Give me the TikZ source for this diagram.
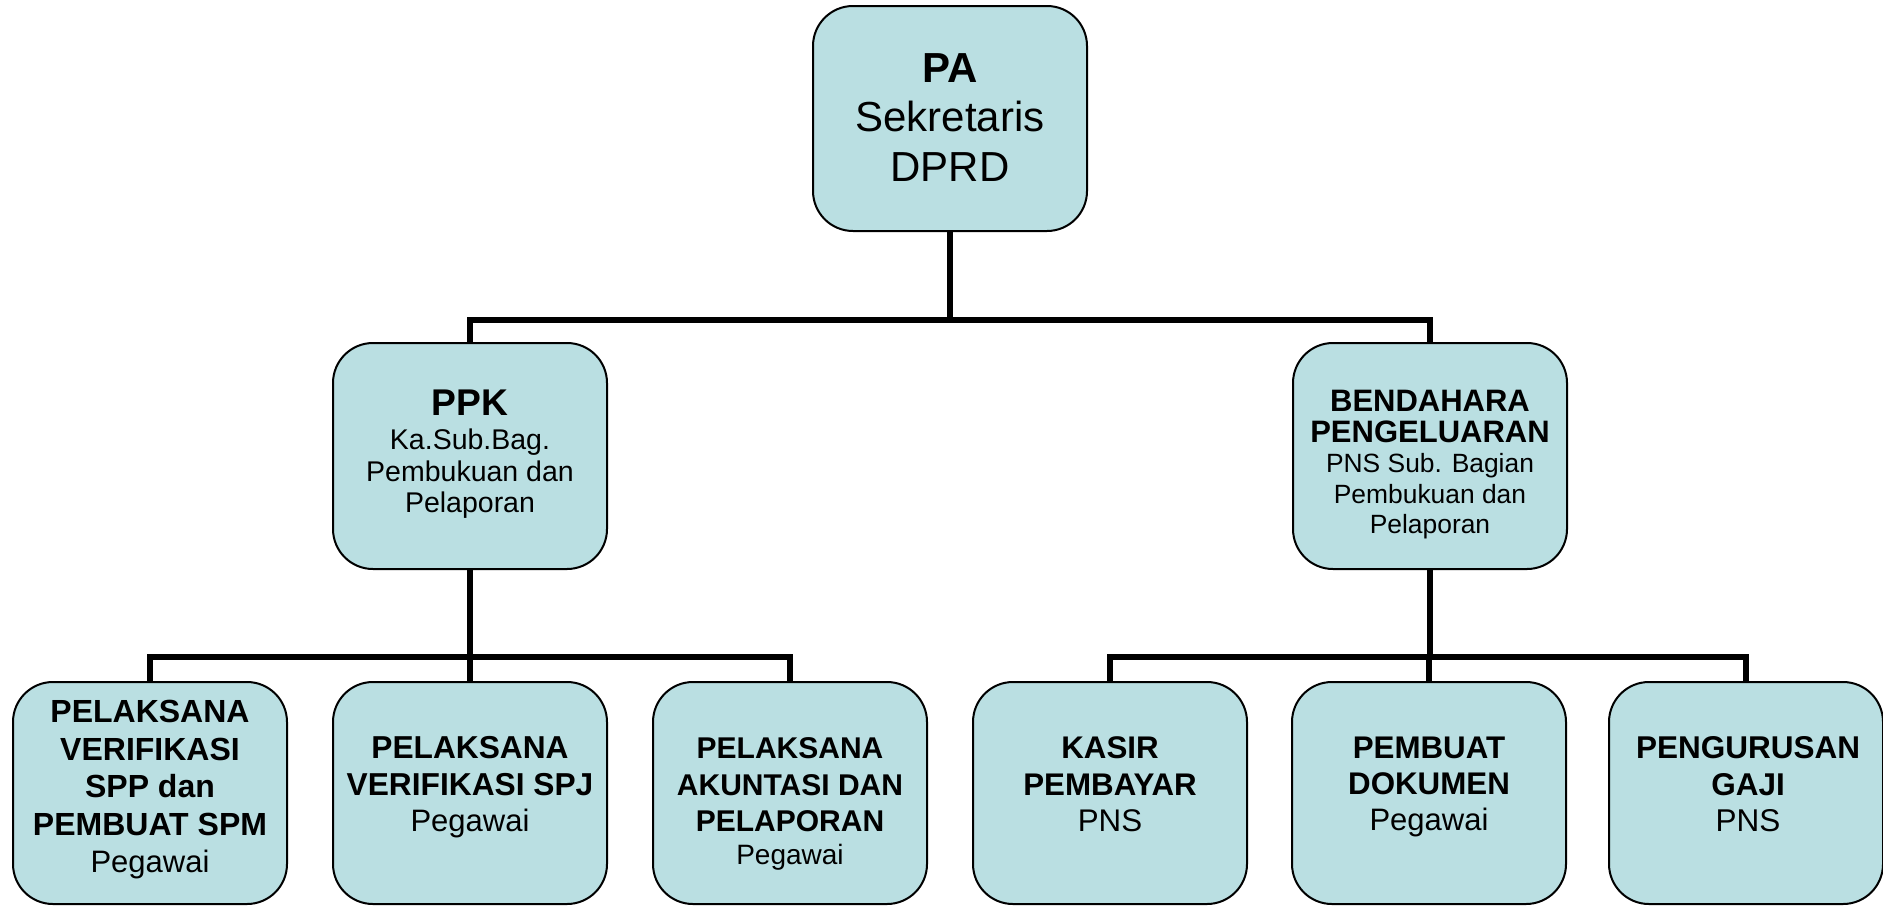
\documentclass[tikz,border=0pt]{standalone}
\usepackage{fontspec}
\setmainfont{Liberation Sans}
\definecolor{boxfill}{RGB}{186,223,226}
\tikzset{
  orgbox/.style={draw=black, line width=1pt, fill=boxfill, rounded corners=20pt,
    inner sep=0pt, minimum width=137pt},
  upbox/.style={orgbox, minimum height=113pt},
  lowbox/.style={orgbox, minimum height=111pt},
  lbl/.style={anchor=north, inner sep=0pt, align=center, text=black},
  conn/.style={draw=black, line width=2.9pt, line join=miter}
}
\begin{document}
\begin{tikzpicture}[x=0.5pt, y=-0.5pt]
\useasboundingbox (0,0) rectangle (1883,905);
% bus coordinates
\coordinate (busA) at (0,320);
\coordinate (busB) at (0,657);
% boxes
\node[orgbox, minimum height=112.5pt] (pa) at (950,118.5) {};
\node[upbox] (ppk) at (470,456) {};
\node[upbox] (bend) at (1430,456) {};
\node[lowbox] (b1) at (150,793) {};
\node[lowbox] (b2) at (470,793) {};
\node[lowbox] (b3) at (790,793) {};
\node[lowbox] (b4) at (1110,793) {};
\node[lowbox] (b5) at (1429,793) {};
\node[lowbox] (b6) at (1746,793) {};
% connectors
\draw[conn] (pa.south) -- (pa.south |- busA);
\draw[conn] (ppk.north) |- (bend.north |- busA) -- (bend.north);
\draw[conn] (ppk.south) -- (ppk.south |- busB);
\draw[conn] (b1.north) |- (b3.north |- busB) -- (b3.north);
\draw[conn] (b2.north) -- (b2.north |- busB);
\draw[conn] (bend.south) -- (bend.south |- busB);
\draw[conn] (b4.north) |- (b6.north |- busB) -- (b6.north);
\draw[conn] (b5.north) -- (b5.north |- busB);
% labels
\node[lbl, font=\fontsize{21}{24.75}\selectfont] (tpa) at (950,53)
  {\textbf{PA}\\Sekretaris\\DPRD};
\node[lbl, font=\fontsize{14.25}{15.85}\selectfont] (tppk) at (470,389.5)
  {{\fontsize{18.6}{18}\selectfont\bfseries PPK}\\[1.15pt]Ka.Sub.Bag.\\Pembukuan dan\\Pelaporan};
\node[lbl, font=\fontsize{13.2}{15.25}\selectfont] (tbend) at (1430,389.8)
  {{\fontsize{15.5}{15}\selectfont\bfseries BENDAHARA}\\{\fontsize{15.5}{15}\selectfont\bfseries PENGELUARAN}\\PNS Sub. Bagian\\Pembukuan dan\\Pelaporan};
\node[lbl, font=\fontsize{16}{18.75}\selectfont] (tb1) at (150,700)
  {\textbf{PELAKSANA}\\\textbf{VERIFIKASI}\\\textbf{SPP dan}\\\textbf{PEMBUAT SPM}\\{\fontsize{15.5}{15}\selectfont Pegawai}};
\node[lbl, font=\fontsize{15.85}{18.15}\selectfont] (tb2) at (470,736.3)
  {\textbf{PELAKSANA}\\\textbf{VERIFIKASI SPJ}\\{\fontsize{15.5}{15}\selectfont Pegawai}};
\node[lbl, font=\fontsize{15}{18.15}\selectfont] (tb3) at (790,737.5)
  {\textbf{PELAKSANA}\\\textbf{AKUNTASI DAN}\\\textbf{PELAPORAN}\\[-1.65pt]{\fontsize{14}{14}\selectfont Pegawai}};
\node[lbl, font=\fontsize{15.65}{18.1}\selectfont] (tb4) at (1110,736.6)
  {\textbf{KASIR}\\\textbf{PEMBAYAR}\\PNS};
\node[lbl, font=\fontsize{15.65}{18.1}\selectfont] (tb5) at (1429,736.6)
  {\textbf{PEMBUAT}\\\textbf{DOKUMEN}\\{\fontsize{15.5}{15}\selectfont Pegawai}};
\node[lbl, font=\fontsize{15.75}{18.1}\selectfont] (tb6) at (1748,736.5)
  {\textbf{PENGURUSAN}\\\textbf{GAJI}\\PNS};
\end{tikzpicture}
\end{document}
